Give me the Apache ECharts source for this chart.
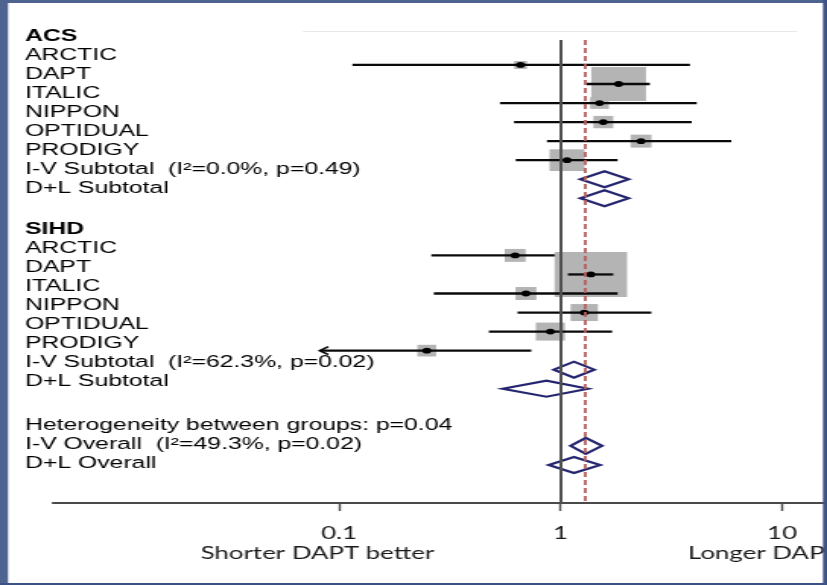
<!DOCTYPE html>
<html>
<head>
<meta charset="utf-8">
<script src="https://cdn.jsdelivr.net/npm/echarts@6/dist/echarts.min.js"></script>
<style>
html,body{margin:0;padding:0;background:#ffffff;}
#wrap{position:absolute;left:0;top:0;width:827px;height:585px;overflow:hidden;}
#chart{position:absolute;left:0;top:0;width:544px;height:585px;transform:scaleX(1.5202206);transform-origin:0 0;}
</style>
</head>
<body>
<div id="wrap"><div id="chart"></div></div>
<script>
// ---------------- data ----------------
const studies = ['ARCTIC', 'DAPT', 'ITALIC', 'NIPPON', 'OPTIDUAL', 'PRODIGY'];
const groupNames = ['ACS', 'SIHD'];

// ACS subgroup (odds ratio, 95% CI, weight %)
const acsOR     = [0.66, 1.83, 1.50, 1.56, 2.31, 1.07];
const acsLow    = [0.115, 1.31, 0.533, 0.617, 0.869, 0.628];
const acsHigh   = [3.84, 2.53, 4.12, 3.91, 5.90, 1.81];
const acsWeight = [1.2, 22.0, 2.6, 2.9, 3.2, 9.0];

// SIHD subgroup
const sihdOR     = [0.624, 1.37, 0.698, 1.28, 0.90, 0.249];
const sihdLow    = [0.261, 1.08, 0.268, 0.64, 0.475, 0.08];
const sihdHigh   = [1.44, 1.73, 1.81, 2.57, 1.71, 0.738];
const sihdWeight = [3.2, 38.6, 3.2, 5.5, 6.2, 2.6];

// pooled estimates [estimate, low, high]
const acsIV     = [1.58, 1.23, 2.03];
const acsDL     = [1.58, 1.23, 2.03];
const sihdIV    = [1.15, 0.933, 1.42];
const sihdDL    = [0.864, 0.548, 1.33];
const overallIV = [1.30, 1.11, 1.54];
const overallDL = [1.15, 0.885, 1.51];

const acsIVLabel     = 'I-V Subtotal  (I\u00B2=0.0%, p=0.49)';
const sihdIVLabel    = 'I-V Subtotal  (I\u00B2=62.3%, p=0.02)';
const dlSubLabel     = 'D+L Subtotal';
const hetLabel       = 'Heterogeneity between groups: p=0.04';
const overallIVLabel = 'I-V Overall  (I\u00B2=49.3%, p=0.02)';
const overallDLLabel = 'D+L Overall';

const xTicks = [0.1, 1, 10];
const leftText = 'Shorter DAPT better';
const rightText = 'Longer DAPT better';

// ---------------- layout ----------------
const S = 827 / 544;               // horizontal stretch of the page
const px = v => v / S;             // screen px -> chart x units
const lg = Math.log10;
const X_MIN = -2.2912, X_MAX = 1.1851;   // log10 extent of axis
const CLIP_LOW = 0.082;
const BOX_K = 7.24;
const LABEL_DX = px(25) - px(53);
const LABEL_DY = 2.5;

const studyData = [];
const diamondData = [];
const labelData = [];

function addGroup(name, or, lo, hi, w, iv, ivLabel, dl, startRow, shift) {
  labelData.push({ value: [X_MIN, startRow - 1 + shift], text: name, bold: true });
  studies.forEach((s, i) => {
    const r = startRow + i;
    labelData.push({ value: [X_MIN, r + shift], text: s });
    studyData.push([lg(Math.max(lo[i], CLIP_LOW)), lg(hi[i]), lg(or[i]), r, w[i], lo[i] < CLIP_LOW ? 1 : 0]);
  });
  const rIV = startRow + studies.length, rDL = rIV + 1;
  labelData.push({ value: [X_MIN, rIV + shift], text: ivLabel });
  labelData.push({ value: [X_MIN, rDL + shift], text: dlSubLabel });
  diamondData.push([lg(iv[1]), lg(iv[2]), lg(iv[0]), rIV]);
  diamondData.push([lg(dl[1]), lg(dl[2]), lg(dl[0]), rDL]);
}
addGroup(groupNames[0], acsOR, acsLow, acsHigh, acsWeight, acsIV, acsIVLabel, acsDL, 0, -0.64);
addGroup(groupNames[1], sihdOR, sihdLow, sihdHigh, sihdWeight, sihdIV, sihdIVLabel, sihdDL, 10, -0.5);
labelData.push({ value: [X_MIN, 19 - 0.22], text: hetLabel });
labelData.push({ value: [X_MIN, 20 - 0.22], text: overallIVLabel });
labelData.push({ value: [X_MIN, 21 - 0.22], text: overallDLLabel });
diamondData.push([lg(overallIV[1]), lg(overallIV[2]), lg(overallIV[0]), 20]);
diamondData.push([lg(overallDL[1]), lg(overallDL[2]), lg(overallDL[0]), 21]);

const tickVals = xTicks.map(lg);
const BORDER = '#4f6391';
const BORDER2 = '#3c5284';

const chart = echarts.init(document.getElementById('chart'), null, { width: 544, height: 585 });
chart.setOption({
  backgroundColor: '#ffffff',
  animation: false,
  grid: { left: px(53), right: 544 - px(823), top: 40, bottom: 82, containLabel: false },
  xAxis: {
    type: 'value', min: X_MIN, max: X_MAX,
    splitLine: { show: false },
    axisLine: { show: true, onZero: false, lineStyle: { color: '#4a4a4a', width: 2 } },
    axisTick: { show: true, customValues: tickVals, length: 8, lineStyle: { color: '#4a4a4a', width: 1.4 } },
    axisLabel: {
      customValues: tickVals, margin: 22, color: '#1a1a1a',
      fontFamily: 'Lato', fontSize: 17,
      formatter: v => { const t = xTicks.find(t => Math.abs(lg(t) - v) < 1e-6); return t === undefined ? '' : String(t); }
    }
  },
  yAxis: { type: 'value', inverse: true, min: -1.31, max: 23, show: false },
  series: [
    {
      type: 'custom', name: 'labels', data: labelData.map(d => d.value),
      encode: { x: 0, y: 1 }, clip: false, silent: true,
      renderItem: (params, api) => {
        const p = api.coord([api.value(0), api.value(1)]);
        const item = labelData[params.dataIndex];
        return {
          type: 'text', x: p[0] + LABEL_DX, y: p[1] + LABEL_DY,
          style: {
            text: item.text, fill: '#000',
            font: (item.bold ? 'bold ' : '') + '16.3px "Liberation Sans", Arial, sans-serif',
            align: 'left', verticalAlign: 'middle'
          }
        };
      }
    },
    {
      type: 'custom', name: 'studies', data: studyData,
      encode: { x: [0, 1, 2], y: 3 }, clip: false, z: 3,
      renderItem: (params, api) => {
        const lo = api.coord([api.value(0), api.value(3)]);
        const hi = api.coord([api.value(1), api.value(3)]);
        const c = api.coord([api.value(2), api.value(3)]);
        const side = BOX_K * Math.sqrt(api.value(4));
        const children = [
          { type: 'rect', shape: { x: c[0] - side * 0.53, y: c[1] - side / 2, width: side * 1.06, height: side }, style: { fill: '#b4b4b4' } },
          { type: 'line', shape: { x1: lo[0], y1: lo[1], x2: hi[0], y2: hi[1] }, style: { stroke: '#0a0a0a', lineWidth: 2.3 } },
          { type: 'circle', shape: { cx: c[0], cy: c[1], r: 2.9 }, style: { fill: '#000' } }
        ];
        if (api.value(5)) {
          children.push({ type: 'polyline', shape: { points: [[lo[0] + 5.5, lo[1] - 4], [lo[0], lo[1]], [lo[0] + 5.5, lo[1] + 4]] },
            style: { stroke: '#0a0a0a', lineWidth: 1.8, fill: null } });
        }
        return { type: 'group', children };
      }
    },
    {
      type: 'custom', name: 'pooled', data: diamondData,
      encode: { x: [0, 1, 2], y: 3 }, clip: false, z: 4,
      renderItem: (params, api) => {
        const lo = api.coord([api.value(0), api.value(3)]);
        const hi = api.coord([api.value(1), api.value(3)]);
        const c = api.coord([api.value(2), api.value(3)]);
        const h = 8;
        return {
          type: 'polygon',
          shape: { points: [[lo[0], lo[1]], [c[0], c[1] - h], [hi[0], hi[1]], [c[0], c[1] + h]] },
          style: { fill: 'none', stroke: '#25256f', lineWidth: 2.2 }
        };
      },
      markLine: {
        silent: true, symbol: 'none', label: { show: false }, animation: false,
        data: [
          { xAxis: 0, lineStyle: { color: '#505050', width: 2, type: 'solid' } },
          { xAxis: lg(overallIV[0]), lineStyle: { color: '#b5625a', width: 1.8, type: [5, 3] } }
        ]
      }
    }
  ],
  graphic: [
    { type: 'line', shape: { x1: px(303), y1: 31.5, x2: px(797), y2: 31.5 }, style: { stroke: '#e8e8e8', lineWidth: 1 }, silent: true },
    { type: 'text', x: px(317.5), y: 554, style: { text: leftText, fill: '#1a1a1a', font: '17px Lato', align: 'center', verticalAlign: 'middle' } },
    { type: 'text', x: px(688), y: 554, style: { text: rightText, fill: '#1a1a1a', font: '17px Lato', align: 'left', verticalAlign: 'middle' } },
    { type: 'rect', z: 100, shape: { x: 0, y: 0, width: px(8), height: 585 }, style: { fill: BORDER } },
    { type: 'rect', z: 100, shape: { x: 0, y: 0, width: 544, height: 3 }, style: { fill: BORDER } },
    { type: 'rect', z: 100, shape: { x: px(823), y: 0, width: 544 - px(823), height: 585 }, style: { fill: BORDER2 } },
    { type: 'rect', z: 100, shape: { x: 0, y: 583, width: 544, height: 2 }, style: { fill: BORDER2 } }
  ]
});
</script>
</body>
</html>
